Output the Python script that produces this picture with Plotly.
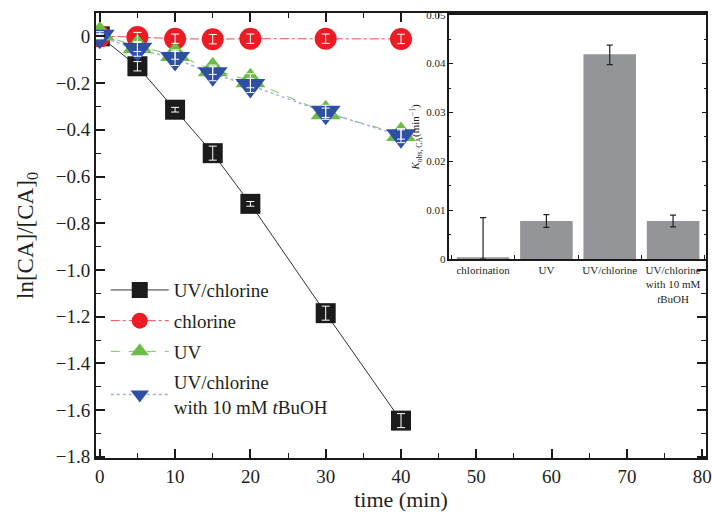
import plotly.graph_objects as go

# ---------------- data ----------------
time_min = [0, 5, 10, 15, 20, 30, 40]

uv_chlorine = [0.0, -0.128, -0.314, -0.50, -0.717, -1.185, -1.645]
uv_chlorine_err = [0.005, 0.02, 0.01, 0.03, 0.01, 0.03, 0.03]

chlorine = [0.0, -0.003, -0.01, -0.012, -0.01, -0.01, -0.011]
chlorine_err = [0.01, 0.02, 0.02, 0.02, 0.02, 0.02, 0.02]

uv = [0.01, -0.045, -0.078, -0.143, -0.19, -0.327, -0.42]
uv_err = [0.01, 0.02, 0.02, 0.02, 0.03, 0.02, 0.02]

uv_chlorine_tbuoh = [0.0, -0.055, -0.095, -0.16, -0.21, -0.325, -0.425]
uv_chlorine_tbuoh_err = [0.01, 0.03, 0.03, 0.03, 0.03, 0.03, 0.03]

series_names = ["UV/chlorine", "chlorine", "UV", "UV/chlorine<br>with 10 mM <i>t</i>BuOH"]

y_tickvals = [0, -0.2, -0.4, -0.6, -0.8, -1.0, -1.2, -1.4, -1.6, -1.8]
y_ticktext = ["0", "\u22120.2", "\u22120.4", "\u22120.6", "\u22120.8", "\u22121.0",
              "\u22121.2", "\u22121.4", "\u22121.6", "\u22121.8"]

# inset bar data
bar_cats = ["chlorination", "UV", "UV/chlorine", "UV/chlorine<br>with 10 mM<br><i>t</i>BuOH"]
kobs = [0.0004, 0.0078, 0.0419, 0.0078]
kobs_err_plus = [0.0081, 0.0013, 0.0019, 0.0012]
kobs_err_minus = [0.0004, 0.0013, 0.0021, 0.0012]

FONT = "Liberation Serif, Times New Roman, serif"

fig = go.Figure()

styles = [
    (uv_chlorine, uv_chlorine_err, "#1b1b1b", "#333333", "solid", 1, "square", 20),
    (chlorine, chlorine_err, "#ed1c24", "#ef4a50", "dashdot", 1, "circle", 22),
    (uv, uv_err, "#6abd45", "#7cc45c", "dash", 1, "triangle-up", 26),
    (uv_chlorine_tbuoh, uv_chlorine_tbuoh_err, "#2e4fa3", "#9fb0dc", "dot", 1.5, "triangle-down", 26),
]

for i, (vals, err, mc, lc, dash, lw, sym, sz) in enumerate(styles):
    fig.add_trace(go.Scatter(
        x=time_min, y=vals, name=series_names[i], mode="lines+markers",
        line=dict(color=lc, width=lw, dash=dash),
        marker=dict(symbol=sym, size=sz, color=mc, line=dict(width=0)),
        legendgroup=f"g{i}", showlegend=True,
        xaxis="x", yaxis="y",
    ))

# white error bars drawn on top of markers
for i, (vals, err, mc, lc, dash, lw, sym, sz) in enumerate(styles):
    fig.add_trace(go.Scatter(
        x=time_min, y=vals, mode="markers",
        marker=dict(size=1, opacity=0),
        error_y=dict(type="data", array=err, color="white", thickness=1, width=4),
        showlegend=False, hoverinfo="skip", xaxis="x", yaxis="y",
    ))

# inset bars
fig.add_trace(go.Bar(
    x=bar_cats, y=kobs, marker=dict(color="#939598", line=dict(width=0)),
    error_y=dict(type="data", symmetric=False, array=kobs_err_plus, arrayminus=kobs_err_minus,
                 color="#222222", thickness=1.2, width=3),
    showlegend=False, xaxis="x2", yaxis="y2", width=0.83,
))

axis_common = dict(showline=True, linecolor="#1a1a1a", mirror="ticks", ticks="inside",
                   showgrid=False, zeroline=False, tickcolor="#1a1a1a", automargin=False)

fig.update_layout(
    width=712, height=512,
    margin=dict(l=96, r=6, t=13, b=54),
    paper_bgcolor="white", plot_bgcolor="white",
    font=dict(family=FONT, color="#231f20"),
    xaxis=dict(**axis_common, range=[-0.5, 80.5], dtick=10, tick0=0, ticklen=9, tickwidth=1.5,
               linewidth=2,
               minor=dict(dtick=5, ticklen=5, ticks="inside", tickcolor="#1a1a1a", tickwidth=1.2),
               tickfont=dict(size=19, family=FONT),
               title=dict(text="time (min)", font=dict(size=22, family=FONT), standoff=2),
               domain=[0, 1]),
    yaxis=dict(**axis_common, range=[-1.805, 0.1], tickvals=y_tickvals, ticktext=y_ticktext,
               ticklen=9, tickwidth=1.5, linewidth=2,
               minor=dict(dtick=0.1, tick0=0, ticklen=5, ticks="inside", tickcolor="#1a1a1a", tickwidth=1.2),
               tickfont=dict(size=19, family=FONT),
               title=dict(text="ln[CA]/[CA]<sub>0</sub>", font=dict(size=23, family=FONT), standoff=16),
               domain=[0, 1]),
    xaxis2=dict(showline=True, linecolor="#1a1a1a", mirror=True, linewidth=1.5,
                ticks="inside", tickson="boundaries", ticklen=4, tickcolor="#1a1a1a",
                showgrid=False, zeroline=False, range=[-0.53, 3.52], tickangle=0,
                tickfont=dict(size=11, family=FONT), anchor="y2", automargin=False,
                domain=[0.5795, 1.0]),
    yaxis2=dict(showline=True, linecolor="#1a1a1a", mirror="ticks", linewidth=1.5,
                ticks="inside", ticklen=4, tickcolor="#1a1a1a", dtick=0.01, range=[0, 0.05],
                minor=dict(dtick=0.005, ticklen=2, ticks="inside", tickcolor="#1a1a1a"),
                showgrid=False, zeroline=False, automargin=False,
                tickfont=dict(size=11, family=FONT), anchor="x2",
                title=dict(text="<i>K</i><sub>obs, CA</sub>(min<sup>\u22121</sup>)",
                           font=dict(size=11, family=FONT), standoff=4),
                domain=[0.447, 0.996]),
    legend=dict(x=0.016, y=0.42, xanchor="left", yanchor="top",
                bgcolor="rgba(0,0,0,0)", font=dict(size=19, family=FONT, color="#231f20"),
                traceorder="grouped", tracegroupgap=3, itemwidth=58, itemsizing="trace"),
    shapes=[dict(type="rect", xref="paper", yref="paper", x0=0.5795, x1=1.0, y0=0.447, y1=0.996,
                 fillcolor="white", line=dict(width=0), layer="below")],
    bargap=0.17,
)

# remove the default 8px page margin so the 712x512 figure fills the window exactly
fig.write_html("out.html", config={"displayModeBar": False},
               post_script="document.body.style.margin='0';document.body.style.overflow='hidden';")
